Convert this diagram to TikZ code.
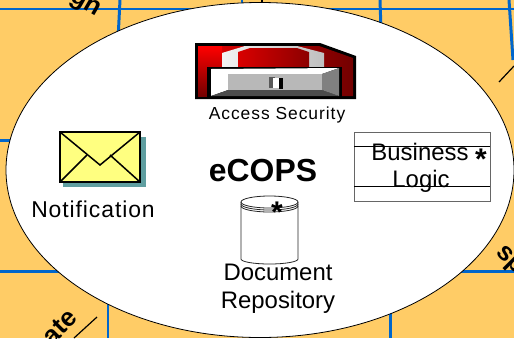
\documentclass[tikz,border=0pt]{standalone}
\usepackage{fontspec}
\setmainfont{Liberation Sans}
\definecolor{bgorange}{HTML}{FFCC66}
\definecolor{gridblue}{HTML}{0066CC}
\definecolor{envy}{HTML}{FFFF80}
\definecolor{shadowteal}{HTML}{5F9EA0}
\tikzset{
  gridline/.style={draw=gridblue,line width=3pt},
  blackline/.style={draw=black,line width=1.2pt},
  label/.style={inner sep=0pt,text=black},
  bigtext/.style={label,font=\fontsize{24}{24}\selectfont},
  cut/.style={inner sep=0pt,font=\bfseries\fontsize{26}{26}\selectfont},
  boxline/.style={draw=black,line width=0.8pt},
  cyl/.style={draw=black!85,line width=0.8pt}
}
\begin{document}
\begin{tikzpicture}[x=1bp,y=-1bp]
\useasboundingbox (0,0) rectangle (514,338);
\fill[bgorange] (0,0) rectangle (514,338);
% grid behind the ellipse
\draw[gridline] (0,9) -- (514,9);
\draw[gridline] (120,0) -- (118,40);
\draw[gridline] (242,0) -- (242,10);
\draw[gridline] (380,0) -- (381,30);
\draw[gridline] (509,0) -- (513,60);
\draw[gridline] (0,140) -- (20,140);
\draw[gridline] (0,271) -- (70,271);
\draw[gridline] (455,271) -- (514,271);
\draw[gridline] (108,300) -- (108,338);
\draw[gridline] (390,310) -- (390,338);
\draw[blackline] (499,82) -- (514,66);
\draw[blackline] (97,317) -- (74,338);
\draw[blackline] (262,0) -- (262,6);
\node[cut,rotate=-30] (gn) at (85,5) {gn};
\node[cut,rotate=45] (ate) at (60,327) {ate};
\node[cut,rotate=-45] (sp) at (509,261) {sp};
% ellipse
\draw[fill=white,draw=black,line width=0.8pt] (260,170) ellipse (254 and 167.5);
% drawer icon
\fill[black] (195,43) -- (320,43) -- (356,56) -- (356,99) -- (195,99) -- cycle;
\shade[left color=red!90!black,right color=red!45!black] (198,46) -- (319,46) -- (353,58) -- (353,96) -- (210,96) -- (210,60) -- (198,60) -- cycle;
\shade[top color=red,bottom color=red!45!black] (198,46) rectangle (222,96);
\shade[left color=black!5,right color=black!25] (222,68) -- (222,53) -- (245,46) -- (297,46) -- (324,53) -- (324,68) -- cycle;
\shade[left color=red!85!black,right color=red!55!black] (238,68) -- (238,52) -- (250,48) -- (297,48) -- (309,52) -- (309,68) -- cycle;
\fill[black] (207,67) rectangle (342,98);
\fill[white] (211,69) -- (339,68) -- (322,74) -- (228,74) -- (228,90) -- (211,96) -- cycle;
\fill[black!70] (211,96) -- (228,90) -- (322,90) -- (339,96) -- cycle;
\fill[black!50] (322,74) -- (339,68) -- (339,96) -- (322,90) -- cycle;
\fill[black!28] (228,74) rectangle (322,90);
\fill[black!65] (269,77) rectangle (275,88);
\fill[white] (273,78) rectangle (279,88);
\fill[black] (279,78) rectangle (283,89);
\node[label,font=\fontsize{17.5}{17.5}\selectfont\addfontfeature{LetterSpace=5.5}] (access) at (277,115) {Access Security};
% envelope
\fill[shadowteal] (63,137) rectangle (146,187);
\draw[fill=envy,draw=black,line width=1.5pt] (60,132) rectangle (140,182);
\draw[draw=black,line width=1.5pt] (60,132) -- (100,165) -- (140,132);
\draw[draw=black,line width=1.5pt] (60,182) -- (87,155);
\draw[draw=black,line width=1.5pt] (110,155) -- (140,182);
\node[label,font=\fontsize{23}{23}\selectfont\addfontfeature{LetterSpace=4}] (notif) at (93,209) {Notification};
% title
\node[inner sep=0pt,font=\bfseries\fontsize{32}{32}\selectfont] (ecops) at (263,171) {eCOPS};
% business logic box
\draw[draw=black!60,line width=0.8pt,fill=white] (354,132) rectangle (490,201);
\draw[boxline] (354,146) -- (490,146);
\draw[boxline] (354,186) -- (490,186);
\node[bigtext] (business) at (420,152) {Business};
\node[bigtext] (logic) at (421,181) {Logic};
\node[inner sep=0pt,font=\bfseries\fontsize{30}{30}\selectfont] (bstar) at (481,159) {*};
% cylinder
\draw[cyl,fill=white] (241,202) -- (241,259) arc[start angle=180,end angle=360,x radius=28.5,y radius=-5] -- (298,202) arc[start angle=0,end angle=180,x radius=28.5,y radius=-6] -- cycle;
\draw[cyl] (241,202) arc[start angle=180,end angle=360,x radius=28.5,y radius=-6];
\draw[cyl] (241,204) arc[start angle=180,end angle=360,x radius=28.5,y radius=-6];
\draw[cyl] (241,206) arc[start angle=180,end angle=360,x radius=28.5,y radius=-6];
\node[inner sep=0pt,font=\bfseries\fontsize{30}{30}\selectfont] (cstar) at (277,212) {*};
\node[bigtext] (doc) at (278,272) {Document};
\node[bigtext] (repo) at (278,302) {Repository};
\end{tikzpicture}
\end{document}
